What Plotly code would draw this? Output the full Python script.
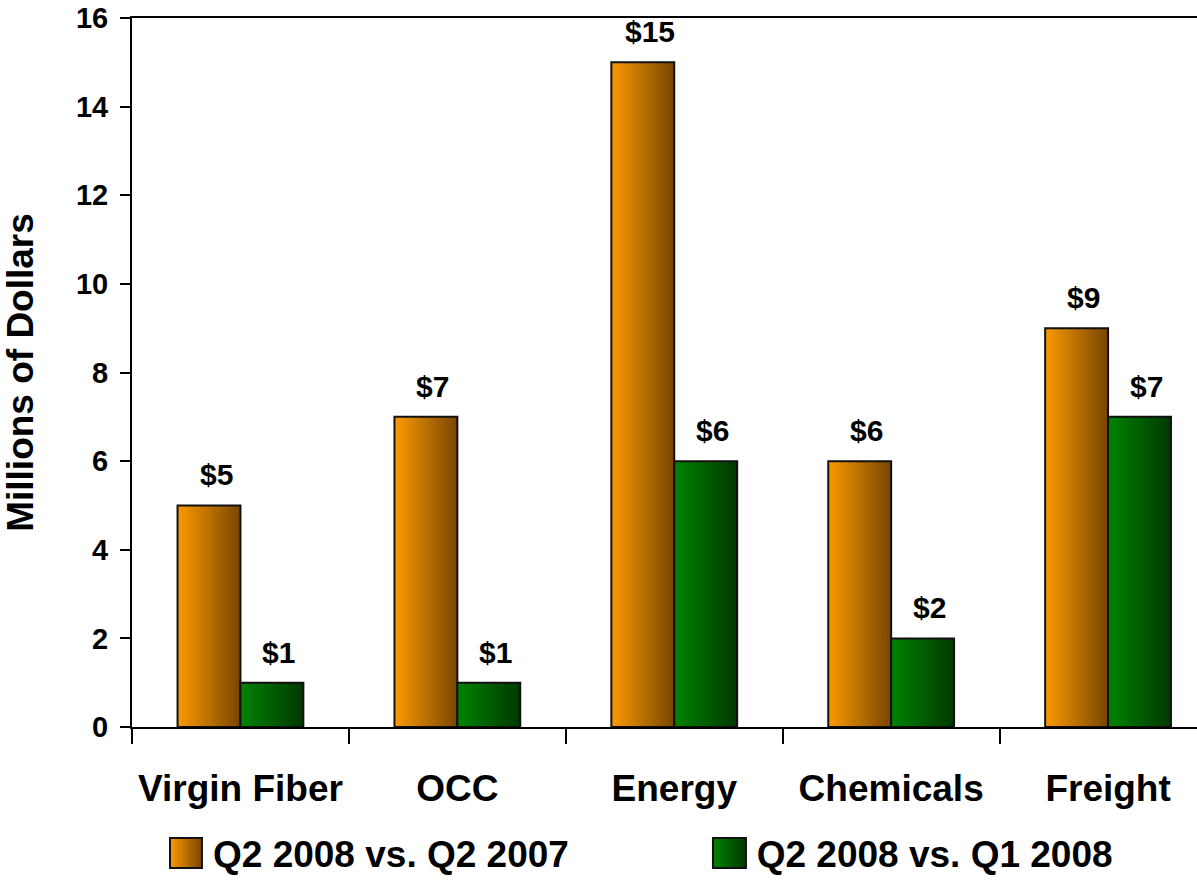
import plotly.graph_objects as go

# ---------------- data ----------------
categories = ["Virgin Fiber", "OCC", "Energy", "Chemicals", "Freight"]
series_names = ["Q2 2008 vs. Q2 2007", "Q2 2008 vs. Q1 2008"]
q2_vs_q2_2007 = [5, 7, 15, 6, 9]
q2_vs_q1_2008 = [1, 1, 6, 2, 7]
y_ticks = [0, 2, 4, 6, 8, 10, 12, 14, 16]

# ---------------- style ----------------
FONT = "Liberation Sans, Arial, Helvetica, sans-serif"
BAR_W = 0.29
N_SLICES = 28
gradients = [((252, 154, 0), (120, 70, 0)), ((0, 132, 0), (0, 56, 0))]
offsets = [-BAR_W, 0.0]
legend_ids = ["legend", "legend2"]


def lerp(c0, c1, t):
    return "rgb(%d,%d,%d)" % tuple(round(a + (b - a) * t) for a, b in zip(c0, c1))


fig = go.Figure()
series_values = [q2_vs_q2_2007, q2_vs_q1_2008]
n = len(categories)

for s, (vals, name) in enumerate(zip(series_values, series_names)):
    c0, c1 = gradients[s]
    off = offsets[s]
    # base (mid colour) under the gradient slices
    fig.add_trace(go.Bar(x=categories, y=vals, width=[BAR_W] * n, offset=[off] * n,
                         marker=dict(color=lerp(c0, c1, 0.5), line=dict(width=0)),
                         showlegend=False, hoverinfo="skip"))
    sw = BAR_W / N_SLICES
    for k in range(N_SLICES):
        t = (k + 0.5) / N_SLICES
        wk = sw * (1.6 if k < N_SLICES - 1 else 1.0)
        fig.add_trace(go.Bar(x=categories, y=vals, width=[wk] * n,
                             offset=[off + k * sw] * n,
                             marker=dict(color=lerp(c0, c1, t), line=dict(width=0)),
                             showlegend=False, hoverinfo="skip"))
    # outline
    fig.add_trace(go.Bar(x=categories, y=vals, width=[BAR_W] * n, offset=[off] * n,
                         marker=dict(color="rgba(0,0,0,0)",
                                     line=dict(color="#111111", width=2)),
                         showlegend=False, name=name,
                         hovertemplate="%{x}: $%{y}<extra>" + name + "</extra>"))
    # legend entry (symbol drawn as gradient swatch below)
    fig.add_trace(go.Bar(x=categories, y=vals, width=[BAR_W] * n, offset=[off] * n,
                         marker=dict(color="rgba(0,0,0,0)", line=dict(width=0)),
                         name=name, showlegend=True, legend=legend_ids[s],
                         hoverinfo="skip"))
    # value labels
    for i, v in enumerate(vals):
        fig.add_annotation(x=i + off + BAR_W / 2, y=v, xref="x", yref="y",
                           text="$%g" % v, showarrow=False, yanchor="bottom",
                           yshift=12, xshift=7,
                           font=dict(size=30, family=FONT, color="black",
                                     weight="bold"))

# gradient legend swatches
sw_x = [(0.0357, 0.0657), (0.5455, 0.5765)]
sw_y = (-0.1989, -0.1566)
for s in range(2):
    c0, c1 = gradients[s]
    x0, x1 = sw_x[s]
    m = 14
    d = (x1 - x0) / m
    for k in range(m):
        fig.add_shape(type="rect", xref="paper", yref="paper",
                      x0=x0 + k * d, x1=x0 + (k + (1.5 if k < m - 1 else 1.0)) * d,
                      y0=sw_y[0], y1=sw_y[1],
                      fillcolor=lerp(c0, c1, (k + 0.5) / m), line=dict(width=0))
    fig.add_shape(type="rect", xref="paper", yref="paper", x0=x0, x1=x1,
                  y0=sw_y[0], y1=sw_y[1], fillcolor="rgba(0,0,0,0)",
                  line=dict(color="#111111", width=2))

legend_common = dict(orientation="h", y=-0.1777, yanchor="middle", xanchor="left",
                     font=dict(size=37, family=FONT, weight="bold"),
                     bgcolor="rgba(0,0,0,0)", itemclick=False, itemdoubleclick=False)

fig.update_layout(
    width=1197, height=896,
    margin=dict(l=132, r=0, t=18, b=169, autoexpand=False),
    barmode="overlay",
    plot_bgcolor="white", paper_bgcolor="white",
    font=dict(family=FONT, color="black", weight="bold"),
    legend=dict(x=0.0385, **legend_common),
    legend2=dict(x=0.549, **legend_common),
    xaxis=dict(type="category", range=[-0.5, 4.41], showline=True, linecolor="black",
               linewidth=2, mirror=True, ticks="outside", tickson="boundaries",
               ticklen=15, tickwidth=2, tickcolor="black", showgrid=False,
               zeroline=False, ticklabelstandoff=28,
               tickfont=dict(size=37, family=FONT, weight="bold")),
    yaxis=dict(range=[0, 16], tickvals=y_ticks, showline=True, linecolor="black",
               linewidth=2, ticks="outside", ticklen=10, tickwidth=2, tickcolor="black",
               showgrid=False, zeroline=False, ticklabelstandoff=6,
               tickfont=dict(size=29, family=FONT, weight="bold"),
               title=dict(text="Millions of Dollars", standoff=35,
                          font=dict(size=37, family=FONT, weight="bold"))),
)

fig.write_html("out.html")
